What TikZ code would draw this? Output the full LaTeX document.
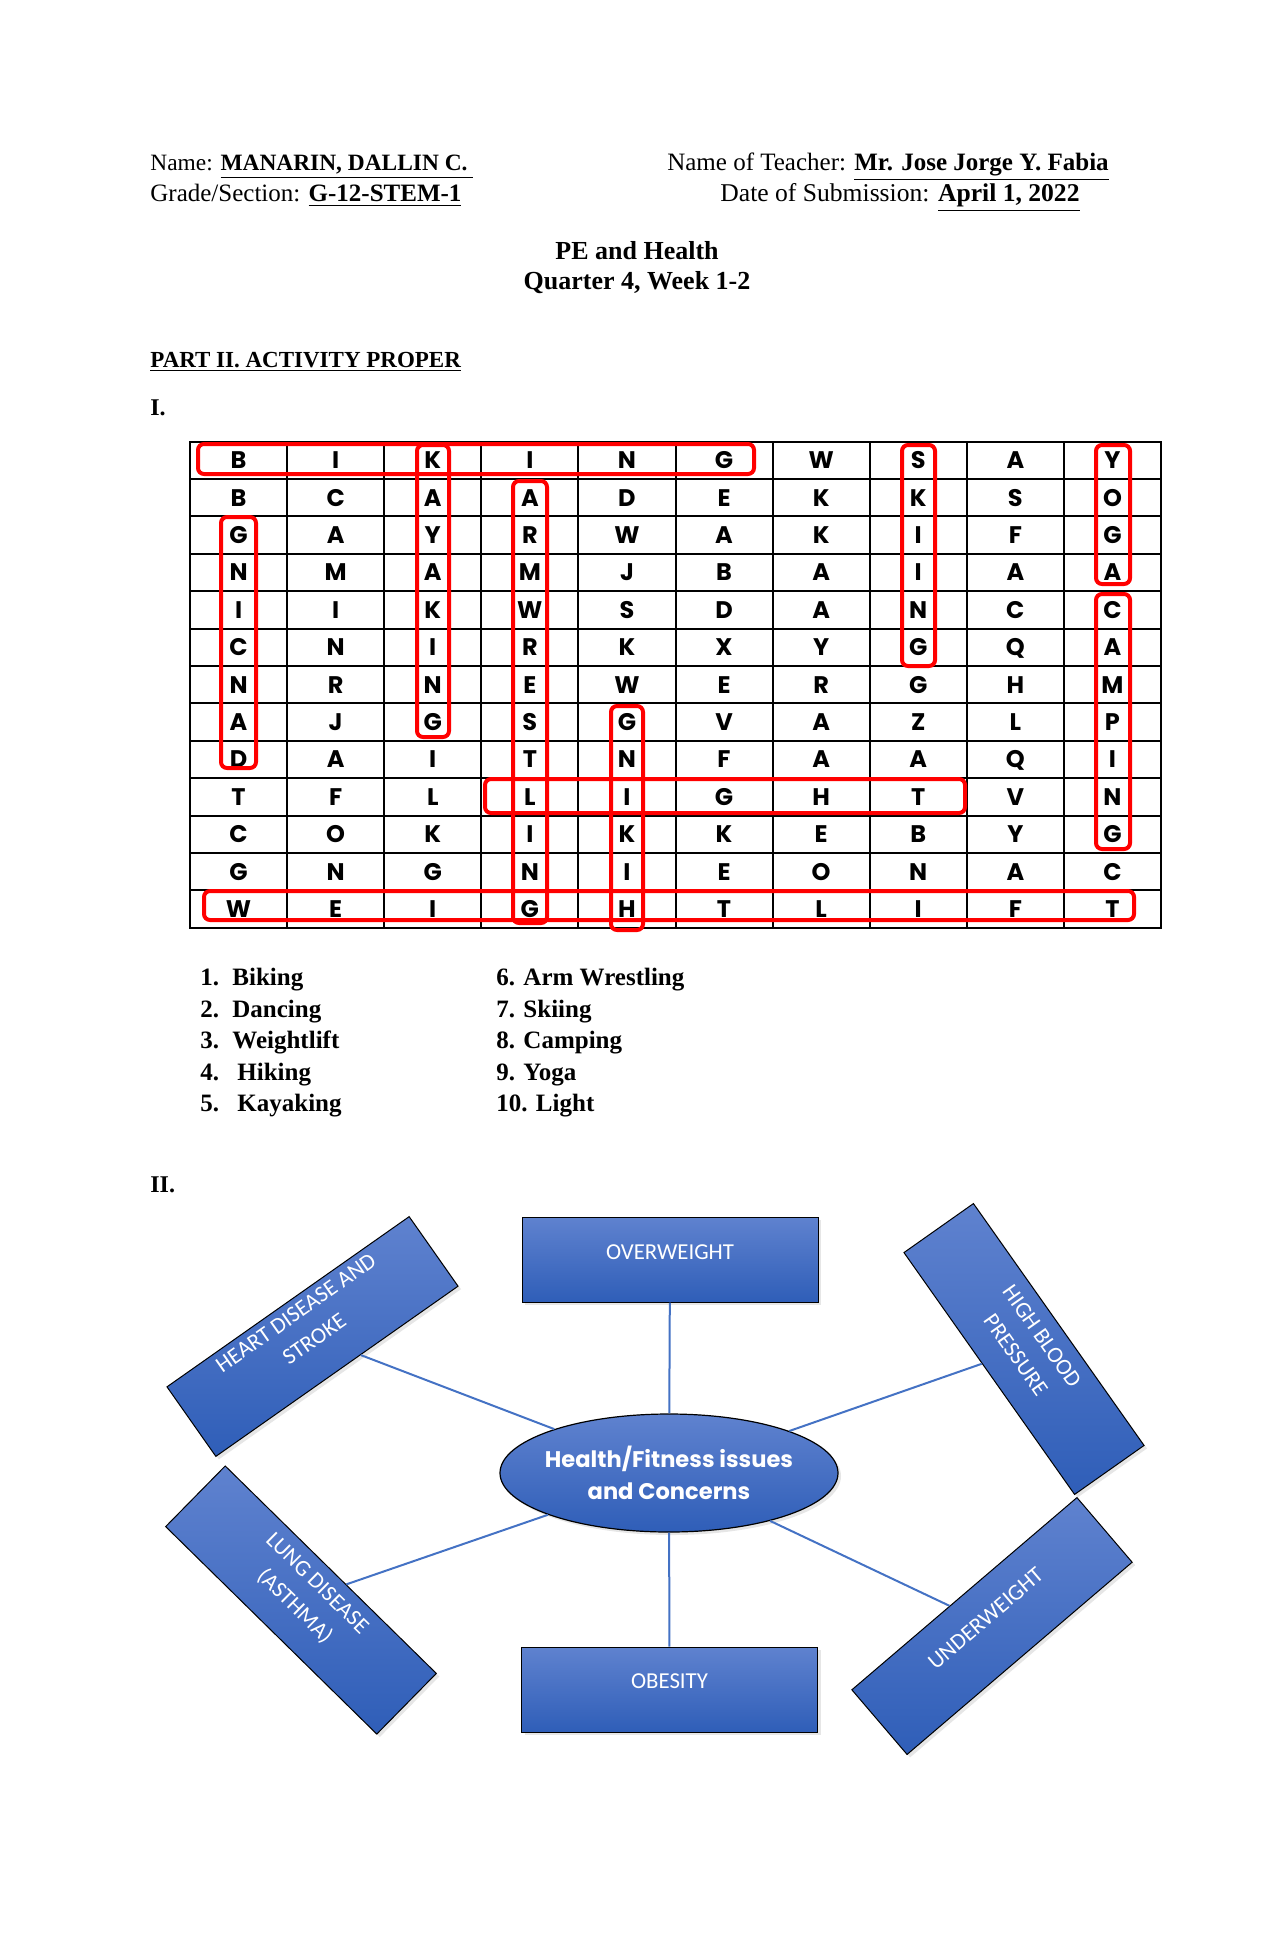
\documentclass[tikz,border=0pt]{standalone}
\usepackage{fontspec}
\setmainfont{Liberation Serif}
\newfontfamily\gothic{Poppins}
\newfontfamily\calib{Carlito}
\usetikzlibrary{shapes.geometric,calc,shadows}
\definecolor{boxtop}{RGB}{95,130,207}
\definecolor{boxbot}{RGB}{47,94,184}
\definecolor{linkblue}{RGB}{68,114,196}
\begin{document}
\begin{tikzpicture}[x=0.5pt,y=-0.5pt,
  hdr/.style={font=\fontsize{#1}{14}\selectfont, inner sep=0pt},
  ttl/.style={font=\bfseries\fontsize{13}{15}\selectfont, inner sep=0pt, anchor=base},
  item/.style={font=\bfseries\fontsize{12.5}{15}\selectfont, inner sep=0pt, anchor=base west},
  letter/.style={font=\gothic\bfseries\fontsize{12}{14}\selectfont, anchor=base, inner sep=0pt},
  redbox/.style={draw=red, line width=2pt, rounded corners=3pt},
  gridline/.style={line width=1pt, line cap=rect},
  issue/.style={draw=black, line width=0.5pt, top color=boxtop, bottom color=boxbot,
    minimum width=148pt, minimum height=42.5pt, inner sep=0pt,
    drop shadow={opacity=0.2, shadow xshift=1.5pt, shadow yshift=-1.5pt}},
  issuetext/.style={text=white, font=\calib\fontsize{11.4}{16}\selectfont, align=center, inner sep=0pt},
  link/.style={draw=linkblue, line width=1pt}]
\useasboundingbox (0,0) rectangle (1280,1958);

% header
\node[hdr=11.7, anchor=base west] (name) at (150,171) {Name: \textbf{\underline{MANARIN, DALLIN C.\ }}};
\node[hdr=12.5, anchor=base west] (grade) at (150,202) {Grade/Section: \textbf{\underline{G-12-STEM-1}}};
\node[hdr=12.5, anchor=base] (teacher) at (888,171) {Name of Teacher: \textbf{\underline{Mr. Jose Jorge Y. Fabia}}};
\node[hdr=12.8, anchor=base] (date) at (900,202) {Date of Submission: \textbf{\underline{April 1, 2022}}};
\node[ttl] (t1) at (637,259) {PE and Health};
\node[ttl] (t2) at (637,289) {Quarter 4, Week 1-2};
\node[font=\bfseries\fontsize{11.5}{14}\selectfont, inner sep=0pt, anchor=base west] (part) at (150,367) {\underline{PART II. ACTIVITY PROPER}};
\node[font=\bfseries\fontsize{12}{14}\selectfont, inner sep=0pt, anchor=base west] (sec1) at (150,415) {I.};

% grid
\foreach \k in {0,...,10} \draw[gridline] ({190+97.1*\k},441.5) -- ({190+97.1*\k},927.7);
\foreach \k in {0,...,13} \draw[gridline] (190,{441.5+37.4*\k}) -- (1161,{441.5+37.4*\k});
\foreach \row [count=\r] in {{B,I,K,I,N,G,W,S,A,Y},{B,C,A,A,D,E,K,K,S,O},{G,A,Y,R,W,A,K,I,F,G},
  {N,M,A,M,J,B,A,I,A,A},{I,I,K,W,S,D,A,N,C,C},{C,N,I,R,K,X,Y,G,Q,A},{N,R,N,E,W,E,R,G,H,M},
  {A,J,G,S,G,V,A,Z,L,P},{D,A,I,T,N,F,A,A,Q,I},{T,F,L,L,I,G,H,T,V,N},{C,O,K,I,K,K,E,B,Y,G},
  {G,N,G,N,I,E,O,N,A,C},{W,E,I,G,H,T,L,I,F,T}}{
  \foreach \L [count=\c] in \row {
    \node[letter] (g\r-\c) at ({190+97.1*(\c-0.5)},{441.5+37.4*(\r-0.5)+8.4}) {\L};
  }
}
% found words
\draw[redbox] (198,444) rectangle (754,474);   % BIKING
\draw[redbox] (417,445) rectangle (449,737);   % KAYAKING
\draw[redbox] (513,481) rectangle (547,923);   % ARM WRESTLING
\draw[redbox] (221,517) rectangle (256,768);   % DANCING
\draw[redbox] (902,445) rectangle (935,666);   % SKIING
\draw[redbox] (1096,445) rectangle (1130,584); % YOGA
\draw[redbox] (1096,594) rectangle (1130,849); % CAMPING
\draw[redbox] (611,706) rectangle (643,930);   % HIKING
\draw[redbox] (485,779) rectangle (965,813);   % LIGHT
\draw[redbox] (204,891) rectangle (1134,920);  % WEIGHTLIFT

% list
\node[item] (l1) at (200,985) {\makebox[16pt][l]{1.}Biking};
\node[item] (l2) at (200,1017) {\makebox[16pt][l]{2.}Dancing};
\node[item] (l3) at (200,1048) {\makebox[16pt][l]{3.}Weightlift};
\node[item] (l4) at (200,1080) {\makebox[18.5pt][l]{4.}Hiking};
\node[item] (l5) at (200,1111) {\makebox[18.5pt][l]{5.}Kayaking};
\node[item] (l6) at (496,985) {6. Arm Wrestling};
\node[item] (l7) at (496,1017) {7. Skiing};
\node[item] (l8) at (496,1048) {8. Camping};
\node[item] (l9) at (496,1080) {9. Yoga};
\node[item] (l10) at (496,1111) {10. Light};

\node[font=\bfseries\fontsize{12}{14}\selectfont, inner sep=0pt, anchor=base west] (sec2) at (150,1192) {II.};

% diagram
\node[ellipse, draw=black, line width=0.6pt, top color=boxtop, bottom color=boxbot,
  minimum width=169pt, minimum height=59pt, inner sep=0pt,
  drop shadow={opacity=0.2, shadow xshift=1.5pt, shadow yshift=-1.5pt}] (center) at (669,1473) {};
\node[text=white, align=center, inner sep=0pt, font=\gothic\bfseries\fontsize{11.3}{16}\selectfont] (centerT) at (center.center)
  {Health/Fitness issues\\and Concerns};

\node[issue] (over) at (670,1259.5) {};
\node[issuetext] (overT) at ($(over.center)!0.18!(over.north)$) {OVERWEIGHT};
\node[issue] (obes) at (669.5,1689.5) {};
\node[issuetext] (obesT) at ($(obes.center)!0.2!(obes.north)$) {OBESITY};
\node[issue, rotate=35.1] (heart) at (312.5,1336.5) {};
\node[issuetext, rotate=35.1] (heartT) at ($(heart.center)!0.3!(heart.north)$) {HEART DISEASE AND\\STROKE};
\node[issue, rotate=-54.8] (hbp) at (1024,1349) {};
\node[issuetext, rotate=-54.8] (hbpT) at ($(hbp.center)!0.14!(hbp.north)$) {HIGH BLOOD\\PRESSURE};
\node[issue, rotate=-44.5] (lung) at (301,1600) {};
\node[issuetext, rotate=-44.5] (lungT) at ($(lung.center)!0.15!(lung.north)$) {LUNG DISEASE\\(ASTHMA)};
\node[issue, rotate=40.5] (under) at (992,1626) {};
\node[issuetext, rotate=40.5] (underT) at ($(under.center)!0.23!(under.north)$) {UNDERWEIGHT};

\draw[link] (center) -- (over);
\draw[link] (center) -- (obes);
\draw[link] (center) -- (heart);
\draw[link] (center) -- (hbp);
\draw[link] (center) -- (lung);
\draw[link] (center) -- (under);
\end{tikzpicture}
\end{document}
